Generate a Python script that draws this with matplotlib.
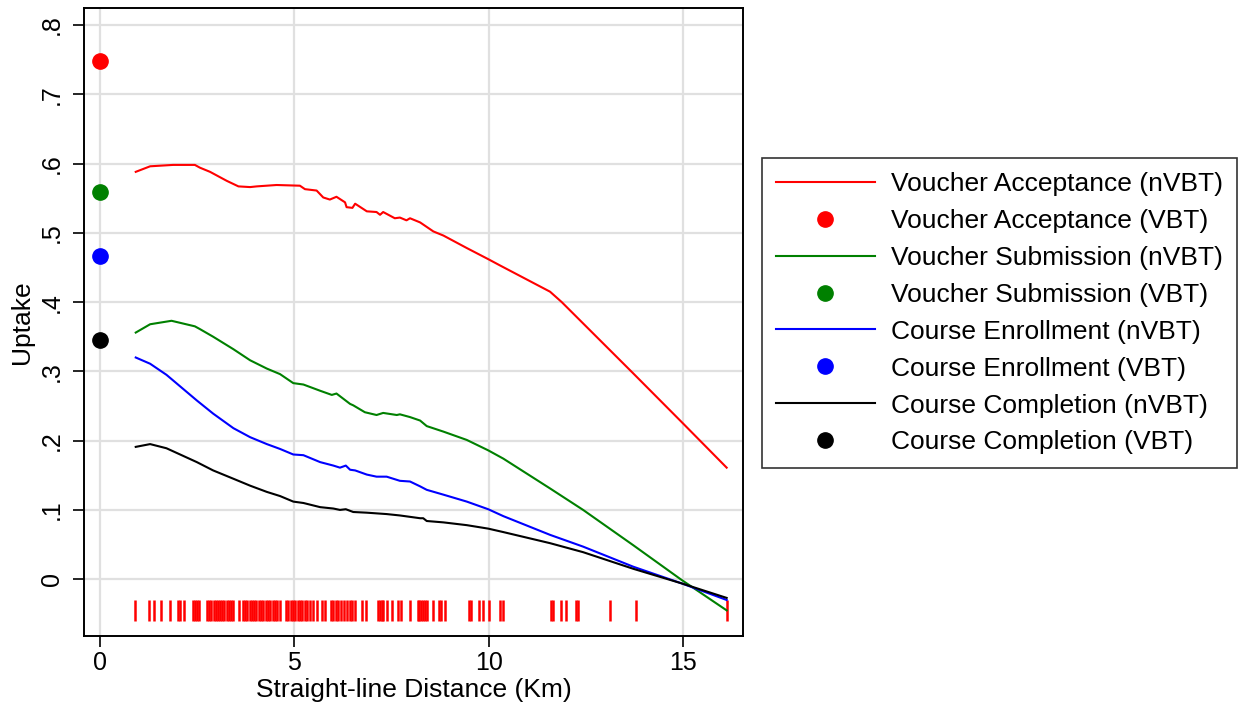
import matplotlib
matplotlib.use("Agg")
import matplotlib.pyplot as plt
from matplotlib.lines import Line2D

plt.rcParams['font.family'] = ['Liberation Sans', 'DejaVu Sans']

# nVBT smoothed curves (distance in km, uptake share)
acc_x = [0.92, 1.29, 1.88, 2.44, 2.57, 2.83, 3.26, 3.56, 3.86, 4.03, 4.54, 5.14, 5.27, 5.57, 5.74, 5.91, 6.08,
         6.30, 6.34, 6.49, 6.56, 6.86, 7.11, 7.20, 7.28, 7.58, 7.71, 7.88, 7.97, 8.23, 8.57, 8.83, 9.43, 9.98,
         10.28, 11.57, 11.87, 13.71, 14.95, 16.11]
acc_y = [0.588, 0.596, 0.598, 0.598, 0.594, 0.588, 0.575, 0.567, 0.566, 0.567, 0.569, 0.568, 0.563, 0.561,
         0.551, 0.548, 0.552, 0.544, 0.537, 0.536, 0.542, 0.531, 0.530, 0.526, 0.530, 0.521, 0.522, 0.518,
         0.521, 0.515, 0.502, 0.496, 0.478, 0.462, 0.453, 0.415, 0.400, 0.297, 0.227, 0.161]

sub_x = [0.92, 1.29, 1.84, 2.44, 2.57, 2.91, 3.43, 3.86, 4.29, 4.63, 4.97, 5.23, 5.66, 5.96, 6.08, 6.43, 6.51,
         6.81, 7.11, 7.28, 7.63, 7.71, 7.97, 8.23, 8.40, 8.83, 9.43, 9.98, 10.37, 11.57, 12.42, 13.71, 14.95, 16.11]
sub_y = [0.356, 0.368, 0.373, 0.365, 0.361, 0.350, 0.332, 0.316, 0.304, 0.296, 0.283, 0.281, 0.272, 0.266,
         0.268, 0.253, 0.251, 0.241, 0.237, 0.240, 0.237, 0.238, 0.234, 0.229, 0.221, 0.213, 0.201, 0.186,
         0.174, 0.131, 0.100, 0.049, -0.001, -0.045]

enr_x = [0.92, 1.29, 1.71, 2.49, 2.91, 3.43, 3.86, 4.29, 4.63, 4.97, 5.23, 5.66, 6.00, 6.17, 6.32, 6.43, 6.56,
         6.86, 7.11, 7.37, 7.71, 7.97, 8.23, 8.40, 8.83, 9.43, 9.98, 10.37, 11.57, 12.42, 13.71, 14.95, 16.11]
enr_y = [0.320, 0.311, 0.295, 0.258, 0.239, 0.218, 0.205, 0.195, 0.188, 0.180, 0.179, 0.169, 0.164, 0.161,
         0.164, 0.158, 0.157, 0.151, 0.148, 0.148, 0.142, 0.141, 0.134, 0.129, 0.122, 0.112, 0.101, 0.091,
         0.064, 0.047, 0.018, -0.006, -0.030]

com_x = [0.92, 1.29, 1.71, 2.49, 2.91, 3.43, 3.86, 4.29, 4.63, 4.97, 5.23, 5.66, 6.00, 6.17, 6.32, 6.51, 6.86,
         7.37, 7.71, 8.23, 8.31, 8.40, 8.83, 9.43, 9.98, 10.37, 11.57, 12.42, 13.71, 14.95, 16.11]
com_y = [0.191, 0.195, 0.189, 0.169, 0.157, 0.145, 0.135, 0.126, 0.120, 0.112, 0.110, 0.104, 0.102, 0.100,
         0.101, 0.097, 0.096, 0.094, 0.092, 0.088, 0.088, 0.084, 0.082, 0.078, 0.073, 0.068, 0.052, 0.039,
         0.015, -0.006, -0.027]

# VBT uptake (at distance 0)
vbt_names = ['Voucher Acceptance', 'Voucher Submission', 'Course Enrollment', 'Course Completion']
vbt_vals = [0.748, 0.559, 0.466, 0.345]
colors = ['#ff0000', '#008000', '#0000ff', '#000000']

# distances of nVBT applicants (rug)
rug = [0.90, 1.26, 1.39, 1.57, 1.80, 2.00, 2.07, 2.16, 2.39, 2.45, 2.50, 2.55, 2.74, 2.80, 2.86, 2.92, 2.98,
       3.03, 3.08, 3.15, 3.20, 3.26, 3.32, 3.38, 3.42, 3.57, 3.68, 3.73, 3.79, 3.85, 3.90, 3.96, 4.02, 4.08,
       4.14, 4.20, 4.26, 4.32, 4.38, 4.44, 4.50, 4.56, 4.63, 4.77, 4.83, 4.90, 4.96, 5.02, 5.08, 5.14, 5.20,
       5.26, 5.33, 5.40, 5.48, 5.57, 5.71, 5.78, 5.93, 6.00, 6.06, 6.13, 6.20, 6.28, 6.35, 6.42, 6.49, 6.56,
       6.73, 6.84, 7.14, 7.19, 7.24, 7.28, 7.38, 7.52, 7.65, 7.75, 7.97, 8.17, 8.21, 8.25, 8.30, 8.35, 8.40,
       8.57, 8.72, 8.77, 8.87, 9.49, 9.55, 9.74, 9.85, 10.01, 10.28, 10.36, 11.59, 11.65, 11.85, 11.97,
       12.23, 12.29, 13.11, 13.77, 16.13]

fig = plt.figure(figsize=(12.45, 7.08), dpi=100)
ax = fig.add_axes([84/1245, 1-636/708, (743-84)/1245, (636-8)/708])

ax.grid(True, color='#e0e0e0', linewidth=1.6)
ax.set_axisbelow(True)

ax.vlines(rug, -0.0606, -0.0303, color='#ff0000', linewidth=1.8, zorder=2)

curves = [(acc_x, acc_y), (sub_x, sub_y), (enr_x, enr_y), (com_x, com_y)]
handles = []
labels = []
for (cx, cy), name, val, c in zip(curves, vbt_names, vbt_vals, colors):
    ax.plot(cx, cy, color=c, linewidth=1.5, zorder=3)
    ax.plot([0], [val], 'o', color=c, markersize=11, zorder=4)
    handles.append(Line2D([], [], color=c, linewidth=1.5))
    labels.append(name + ' (nVBT)')
    handles.append(Line2D([], [], color=c, marker='o', linestyle='none', markersize=11))
    labels.append(name + ' (VBT)')

ax.set_xlim(-0.41, 16.53)
ax.set_ylim(-0.082, 0.8245)
ax.set_xticks([0, 5, 10, 15])
yt = [0, 0.1, 0.2, 0.3, 0.4, 0.5, 0.6, 0.7, 0.8]
ax.set_yticks(yt)
ax.set_yticklabels(['0', '.1', '.2', '.3', '.4', '.5', '.6', '.7', '.8'], rotation=90, va='center')
ax.tick_params(axis='both', labelsize=18, length=8, width=1.2, direction='out')
ax.tick_params(axis='x', pad=3)
ax.tick_params(axis='y', pad=6.5)
for s in ax.spines.values():
    s.set_linewidth(1.4)

ax.set_xlabel('Straight-line Distance (Km)', fontsize=19, labelpad=2)
ax.set_ylabel('Uptake', fontsize=19, labelpad=4)

leg = fig.legend(handles, labels, loc='upper left', bbox_to_anchor=(762/1245, 1-158/708),
                 fontsize=19, handlelength=3.75, handletextpad=0.6, labelspacing=0.49,
                 borderpad=0.53, fancybox=False, frameon=True, borderaxespad=0)
leg.get_frame().set_edgecolor('black')
leg.get_frame().set_linewidth(1.2)

fig.savefig('out.png', dpi=100)
